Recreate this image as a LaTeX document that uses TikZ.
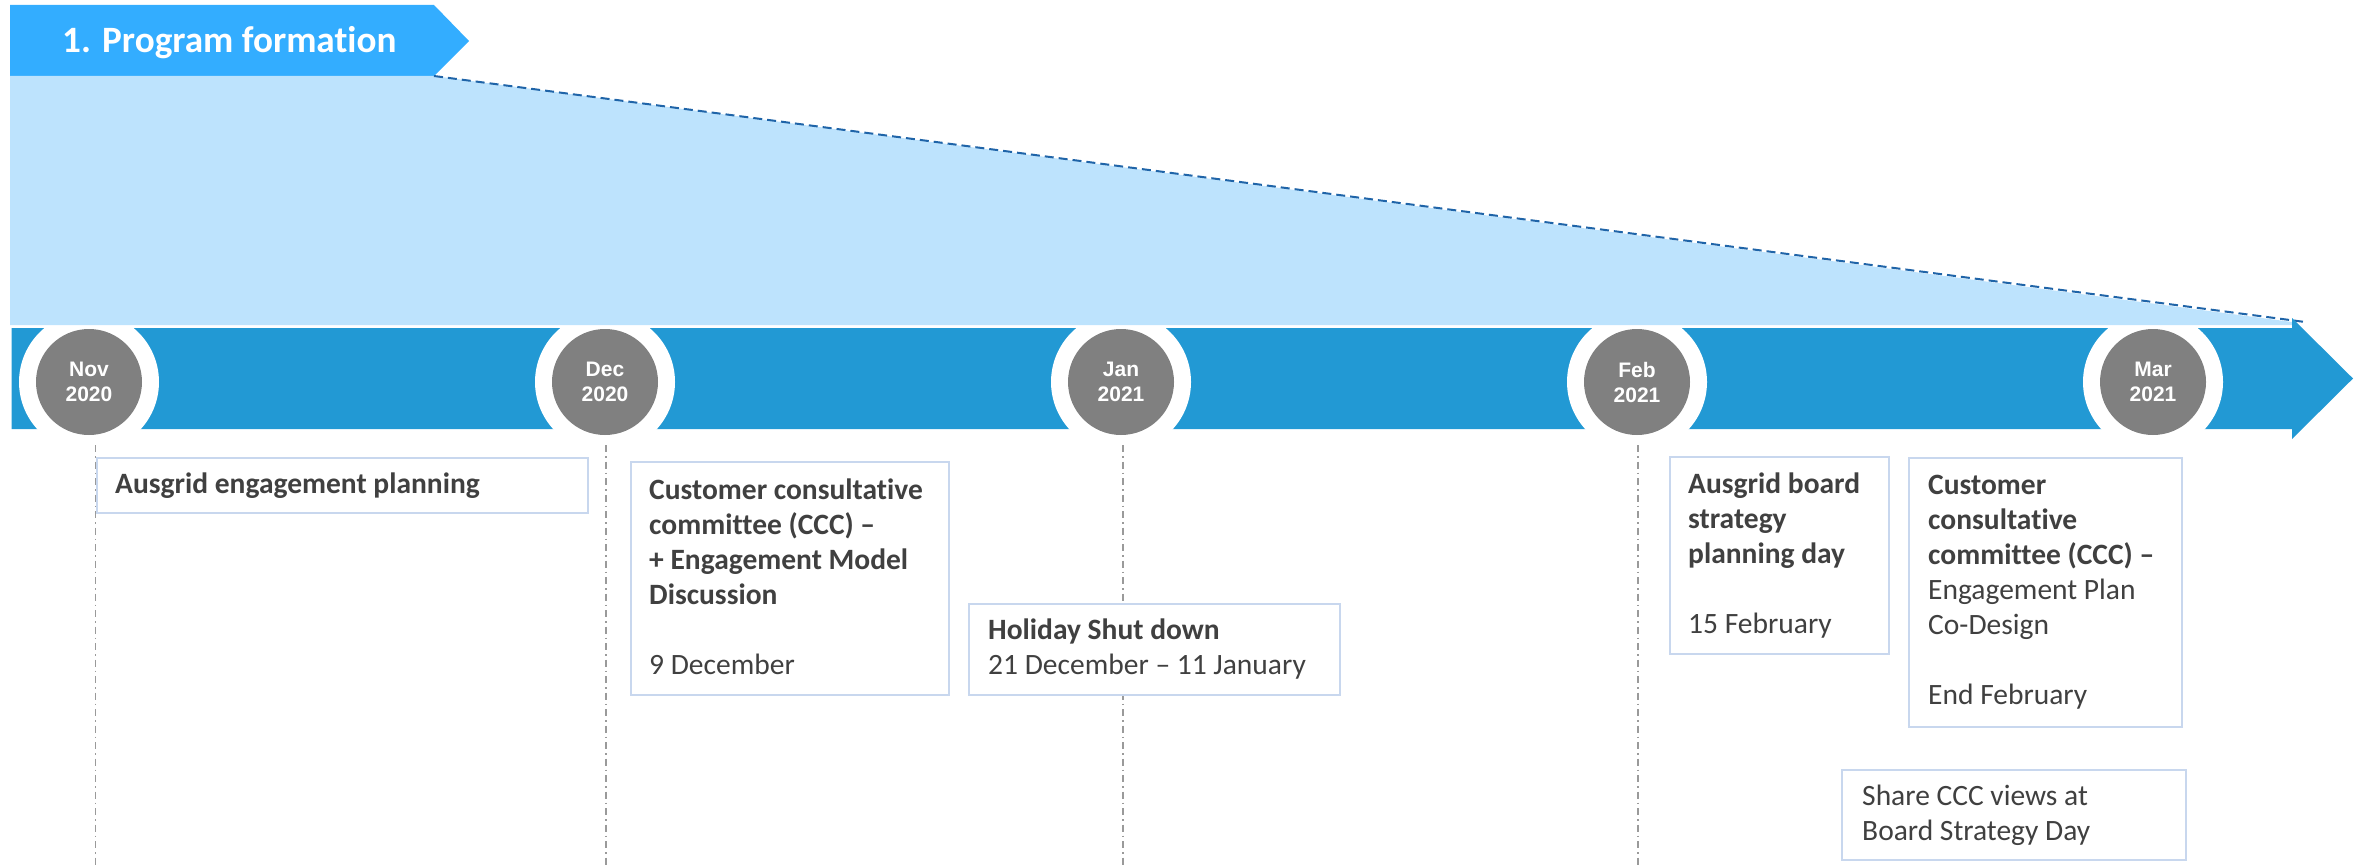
\documentclass[tikz,border=0pt]{standalone}
\usepackage{fontspec}
\setmainfont{Carlito}[Ligatures=NoCommon]
\newfontfamily\monthfont{Liberation Sans}
\definecolor{bannerblue}{HTML}{33ADFF}
\definecolor{paleblue}{HTML}{BDE3FD}
\definecolor{bandblue}{HTML}{2299D4}
\definecolor{dashblue}{HTML}{1F64A8}
\definecolor{monthgray}{HTML}{808080}
\definecolor{boxline}{HTML}{C8D7EE}
\definecolor{ink}{HTML}{404040}
\definecolor{guidegray}{HTML}{9A9A9A}
\begin{document}
\begin{tikzpicture}[x=1pt,y=-1pt,
  month/.style={circle, fill=monthgray, minimum size=106pt, inner sep=0pt,
    text=white, align=center, font=\monthfont\bfseries\fontsize{21}{25}\selectfont},
  eventbox/.style={draw=boxline, line width=2pt, fill=white, rectangle,
    anchor=north west, inner sep=0pt},
  eventtext/.style={anchor=base west, inner sep=0pt, text=ink,
    font=\fontsize{29.5}{35}\selectfont},
  guide/.style={draw=guidegray, line width=1.5pt,
    dash pattern=on 7pt off 4pt on 1.5pt off 4pt},
  trend/.style={draw=dashblue, line width=2pt, dash pattern=on 9pt off 5pt},
  titletext/.style={anchor=base west, inner sep=0pt, text=white,
    font=\bfseries\fontsize{37.2}{40}\selectfont}]
\useasboundingbox (0,0) rectangle (2367,867);

% phase banner and the shaded wedge below it
\fill[bannerblue] (10,5) -- (434,5) -- (469,41) -- (434,76) -- (10,76) -- cycle;
\node[titletext] (title) at (62,53) {1. Program formation};
\fill[paleblue] (10,76) -- (434,76) -- (2292,322) -- (2292,325) -- (10,325) -- cycle;
\coordinate (wedgetop) at (434,76);
\coordinate (wedgeend) at (2305,322);
\draw[trend] (wedgetop) -- (wedgeend);

% timeline arrow
\fill[bandblue] (11.5,328) -- (2292,328) -- (2292,318) -- (2353,378.5)
  -- (2292,439) -- (2292,429) -- (11.5,429) -- cycle;
\begin{scope}
  \clip (11.5,328) rectangle (2292,429);
  \foreach \mx in {89,605,1121,1637,2153}
    \fill[white] (\mx,382) circle[radius=70];
\end{scope}

% month markers
\node[month] (nov) at (89,382)   {Nov\\2020};
\node[month] (dec) at (605,382)  {Dec\\2020};
\node[month] (jan) at (1121,382) {Jan\\2021};
\node[month] (feb) at (1637,382) {Feb\\2021};
\node[month] (mar) at (2153,382) {Mar\\2021};

% vertical guides under the months
\coordinate (novtop) at (95.5,445);  \coordinate (novbot) at (95.5,867);
\coordinate (dectop) at (606,445);   \coordinate (decbot) at (606,867);
\coordinate (jantop) at (1123,445);  \coordinate (janbot) at (1123,867);
\coordinate (febtop) at (1638,445);  \coordinate (febbot) at (1638,867);
\draw[guide] (novtop) -- (novbot);
\draw[guide] (dectop) -- (decbot);
\draw[guide] (jantop) -- (janbot);
\draw[guide] (febtop) -- (febbot);

% event boxes
\node[eventbox, minimum width=491.5pt, minimum height=55pt] (planbox) at (95.5,457) {};
\node[eventbox, minimum width=318pt, minimum height=233pt] (cccdecbox) at (630,461) {};
\node[eventbox, minimum width=371pt, minimum height=91pt] (holbox) at (968,603) {};
\node[eventbox, minimum width=219.5pt, minimum height=197pt] (boardbox) at (1668.5,456) {};
\node[eventbox, minimum width=273pt, minimum height=269pt] (cccfebbox) at (1908,457) {};
\node[eventbox, minimum width=344pt, minimum height=90pt] (sharebox) at (1841,769) {};

% event texts
\node[eventtext] (plantext) at (115,493)
  {\parbox[t]{460pt}{\raggedright\bfseries Ausgrid engagement planning}};
\node[eventtext] (cccdectext) at (649,499)
  {\parbox[t]{300pt}{\raggedright\bfseries Customer consultative\\
   committee (CCC) –\\+ Engagement Model\\Discussion\\[35pt]
   \mdseries 9 December}};
\node[eventtext] (holtext) at (988,639)
  {\parbox[t]{350pt}{\raggedright\textbf{Holiday Shut down}\\
   21 December – 11 January}};
\node[eventtext] (boardtext) at (1688,493)
  {\parbox[t]{200pt}{\raggedright\bfseries Ausgrid board\\strategy\\
   planning day\\[35pt]\mdseries 15 February}};
\node[eventtext] (cccfebtext) at (1928,494)
  {\parbox[t]{250pt}{\raggedright\textbf{Customer}\\\textbf{consultative}\\
   \textbf{committee (CCC) –}\\Engagement Plan\\Co-Design\\[35pt]End February}};
\node[eventtext] (sharetext) at (1862,805)
  {\parbox[t]{320pt}{\raggedright Share CCC views at\\Board Strategy Day}};
\end{tikzpicture}
\end{document}
